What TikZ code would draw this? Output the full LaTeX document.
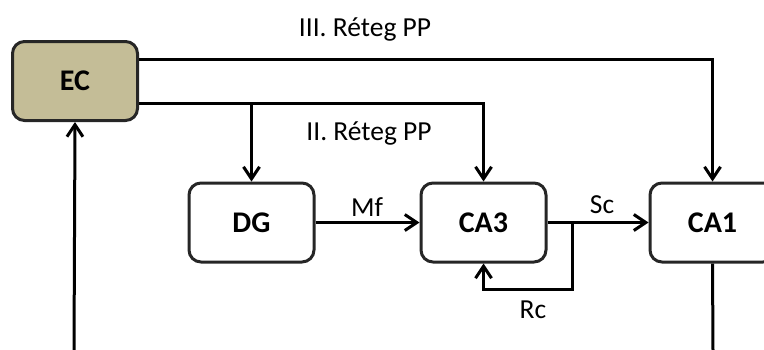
\documentclass[tikz,border=0pt]{standalone}
\usepackage{fontspec}
\setmainfont{Carlito}
\usetikzlibrary{arrows.meta}
\definecolor{ecfill}{HTML}{C4BD97}
\definecolor{edge}{HTML}{262626}
\begin{document}
\begin{tikzpicture}[x=0.5pt,y=-0.5pt,
  blk/.style={draw=edge,line width=1.5pt,rounded corners=6pt,fill=white,
    minimum width=62.5pt,minimum height=39.5pt,inner sep=0pt,
    font=\fontsize{15}{18}\selectfont\bfseries},
  conn/.style={draw=black,line width=1.5pt},
  arr/.style={conn,-{Straight Barb[length=6pt,width=8pt,line width=1.5pt]}},
  lbl/.style={inner sep=0pt,font=\fontsize{13.75}{16}\selectfont}]
\useasboundingbox (0,0) rectangle (764,349);
\node[blk,fill=ecfill] (ec) at (75,81) {EC};
\node[blk] (dg) at (251.5,222.5) {DG};
\node[blk] (ca3) at (483.5,222.5) {CA3};
\node[blk] (ca1) at (712.5,222.5) {CA1};
\coordinate (ecin) at (74,352);
\coordinate (ca1out) at (713,352);
\coordinate (fb) at (572,222.5);
% III. Reteg PP
\draw[arr] (ec.east |- 0,59) -| (ca1.north);
% II. Reteg PP
\draw[arr] (ec.east |- 0,103) -| (ca3.north);
\draw[arr] (dg.north |- 0,103) -- (dg.north);
% internal
\draw[arr] (dg.east) -- (ca3.west);
\draw[arr] (ca3.east) -- (ca1.west);
\draw[arr] (fb) -- (572,289) -| (ca3.south);
\draw[conn] (ca1.south) -- (ca1out);
\draw[arr] (ecin) -- (ec.south);
% labels
\node[lbl] (l3) at (365,29) {III. Réteg PP};
\node[lbl] (l2) at (369,133) {II. Réteg PP};
\node[lbl] (mf) at (367,207) {Mf};
\node[lbl] (sc) at (602,205) {Sc};
\node[lbl] (rc) at (533,310) {Rc};
\end{tikzpicture}
\end{document}
